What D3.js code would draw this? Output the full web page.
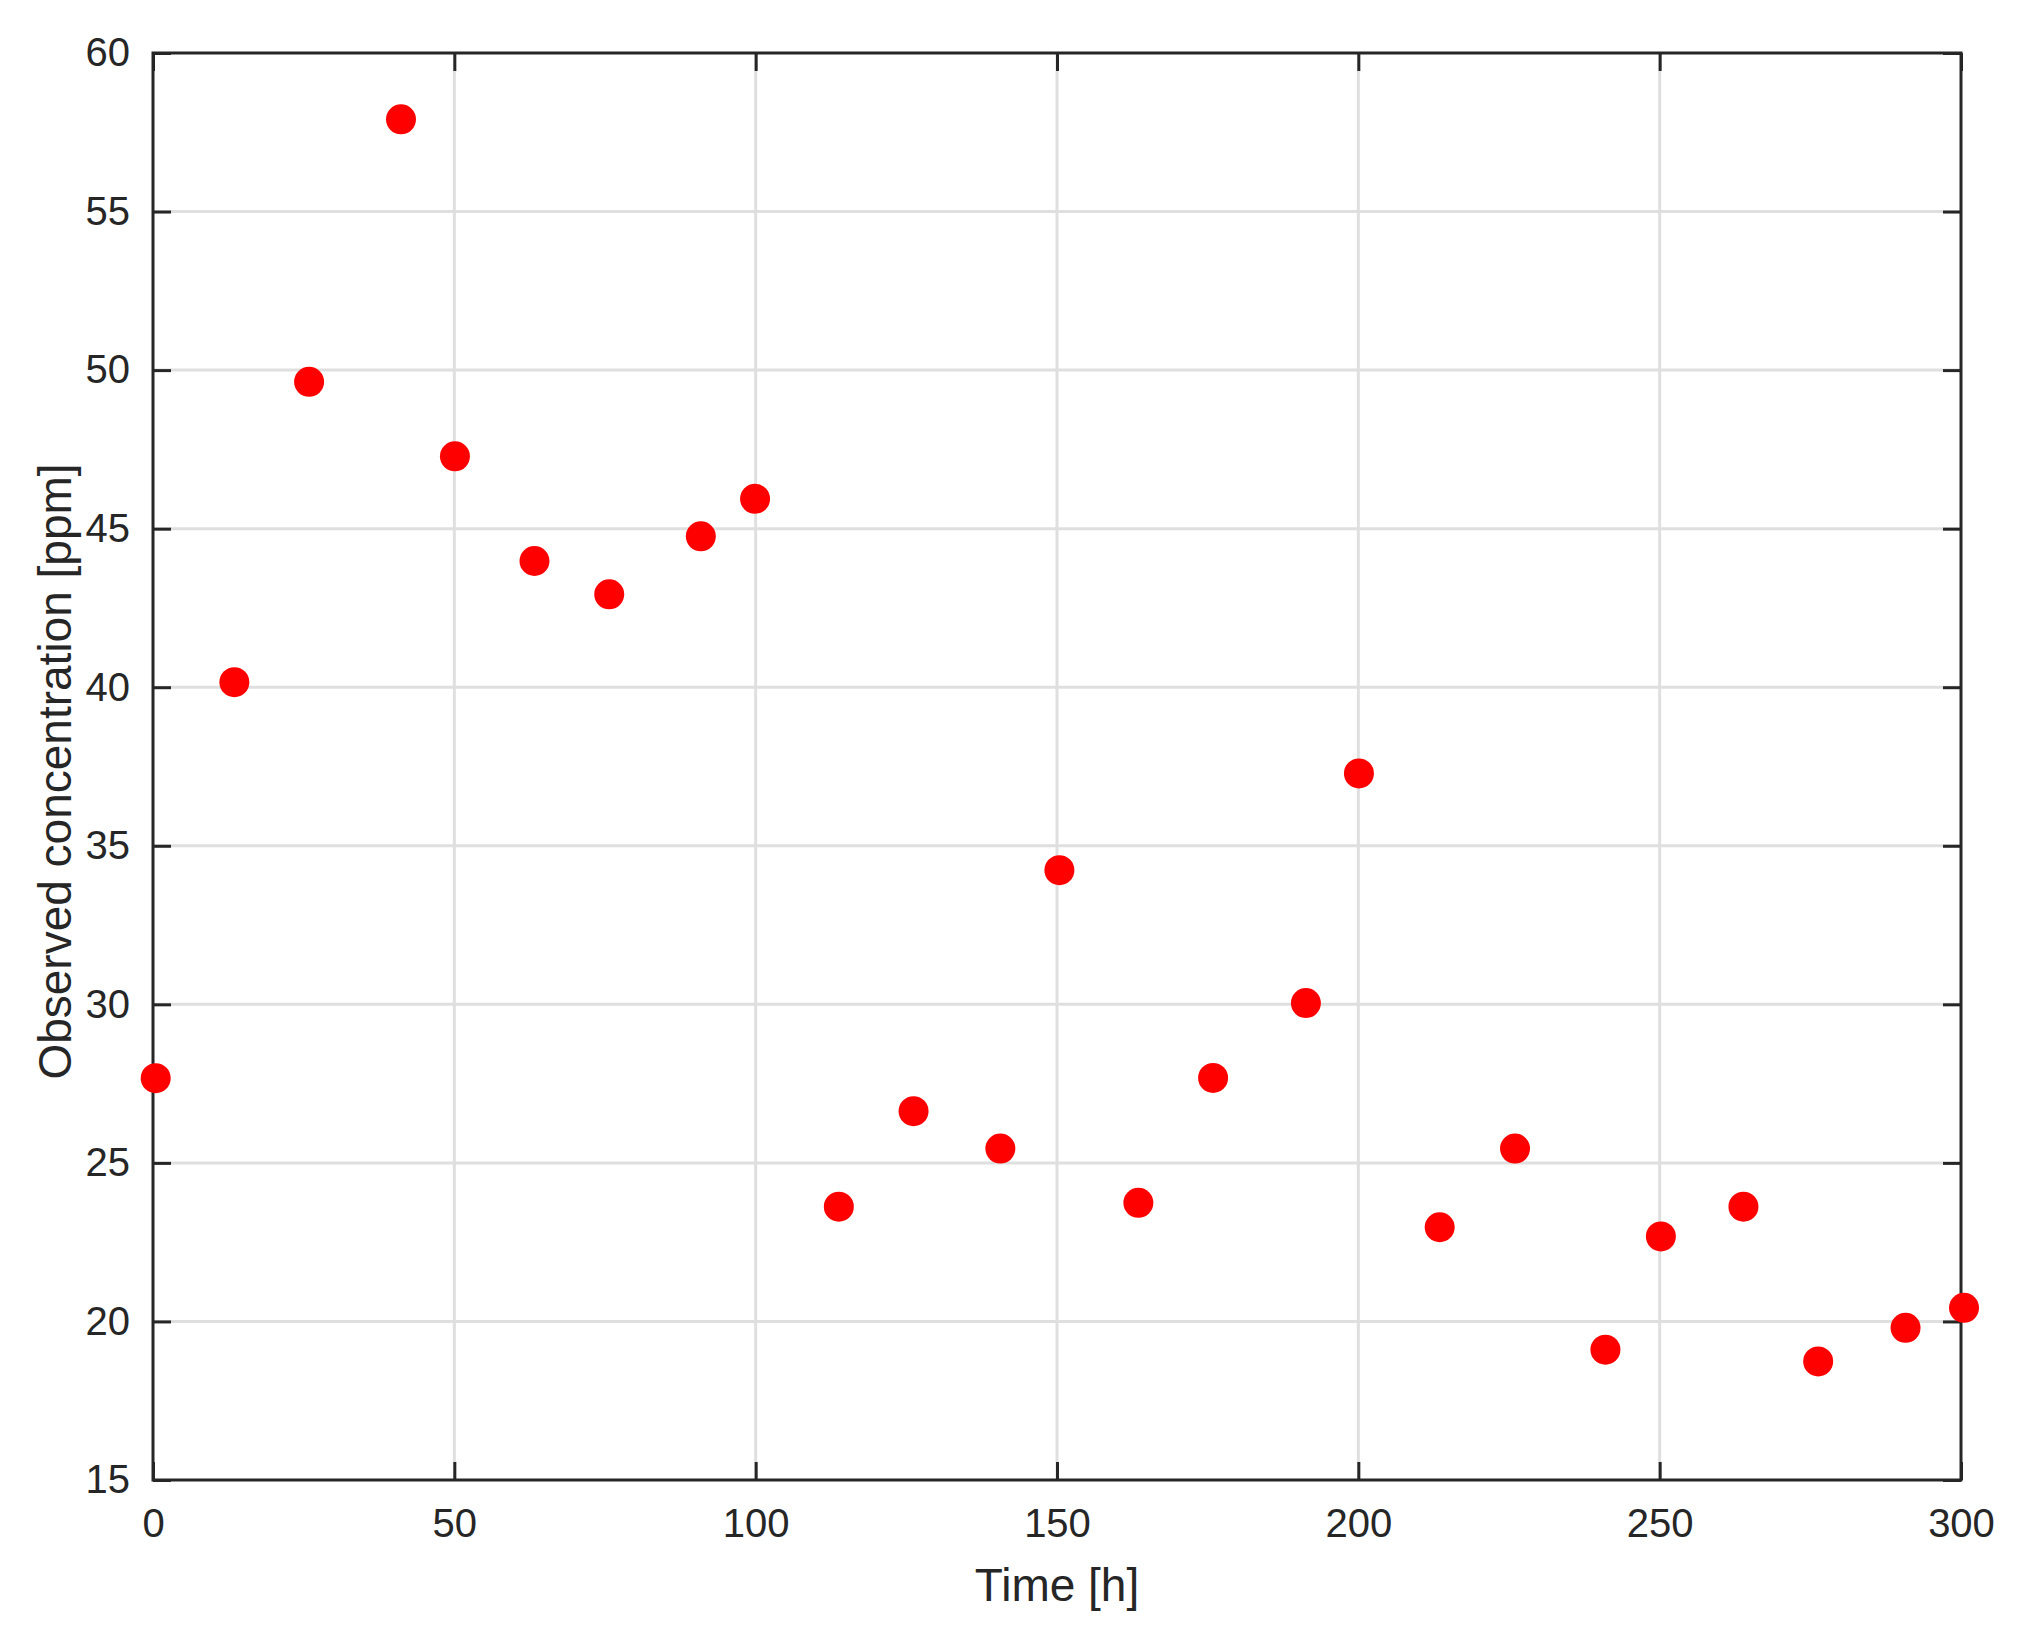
<!DOCTYPE html>
<html>
<head>
<meta charset="utf-8">
<script src="https://cdn.jsdelivr.net/npm/d3@7"></script>
<style>
html,body{margin:0;padding:0;background:#fff;}
svg{display:block;}
</style>
</head>
<body>
<script>
const timeH = [0.45, 13.5, 25.9, 41.15, 50.1, 63.3, 75.7, 90.9, 99.9, 113.8, 126.2, 140.6, 150.4, 163.5, 175.9, 191.3, 200.1, 213.5, 226.0, 241.0, 250.2, 263.9, 276.3, 290.8, 300.5];
const concPpm = [27.67, 40.16, 49.63, 57.91, 47.28, 43.98, 42.93, 44.76, 45.94, 23.62, 26.63, 25.45, 34.23, 23.74, 27.68, 30.04, 37.28, 22.97, 25.45, 19.11, 22.68, 23.62, 18.74, 19.80, 20.43];
const xTicks = [0, 50, 100, 150, 200, 250, 300];
const yTicks = [15, 20, 25, 30, 35, 40, 45, 50, 55, 60];
const xLabel = "Time [h]";
const yLabel = "Observed concentration [ppm]";

const W = 2021, H = 1637;
const L = 153, R = 1961, T = 53, B = 1480;
const font = "'Liberation Sans', Arial, Helvetica, sans-serif";
const axisColor = "#262626";

const svg = d3.select("body").append("svg").attr("width", W).attr("height", H);
const x = d3.scaleLinear().domain([0, 300]).range([L, R]);
const y = d3.scaleLinear().domain([15, 60]).range([B, T]);

// grid
const g = svg.append("g");
g.selectAll("line.gx").data(xTicks.slice(1, -1)).join("line")
  .attr("x1", d => x(d)).attr("x2", d => x(d)).attr("y1", T).attr("y2", B)
  .attr("stroke", "#dfdfdf").attr("stroke-width", 3);
g.selectAll("line.gy").data(yTicks.slice(1, -1)).join("line")
  .attr("y1", d => y(d)).attr("y2", d => y(d)).attr("x1", L).attr("x2", R)
  .attr("stroke", "#dfdfdf").attr("stroke-width", 3);

// axes with inward ticks
const tl = 18;
const axB = d3.axisBottom(x).tickValues(xTicks).tickSize(-tl).tickPadding(29).tickFormat(d3.format("d"));
const axT = d3.axisTop(x).tickValues(xTicks).tickSize(-tl).tickFormat("");
const axL = d3.axisLeft(y).tickValues(yTicks).tickSize(-tl).tickPadding(23).tickFormat(d3.format("d"));
const axR = d3.axisRight(y).tickValues(yTicks).tickSize(-tl).tickFormat("");

function style(sel) {
  sel.select(".domain").remove();
  sel.selectAll(".tick line").attr("stroke", axisColor).attr("stroke-width", 3);
  sel.selectAll(".tick text").attr("fill", axisColor).attr("font-family", font).attr("font-size", 40);
}
svg.append("g").attr("transform", `translate(0,${B})`).call(axB).call(style);
svg.append("g").attr("transform", `translate(0,${T})`).call(axT).call(style);
svg.append("g").attr("transform", `translate(${L},0)`).call(axL).call(style);
svg.append("g").attr("transform", `translate(${R},0)`).call(axR).call(style);

// box
svg.append("rect").attr("x", L).attr("y", T).attr("width", R - L).attr("height", B - T)
  .attr("fill", "none").attr("stroke", axisColor).attr("stroke-width", 3);

// labels
svg.append("text").attr("x", (L + R) / 2).attr("y", 1601).attr("text-anchor", "middle")
  .attr("font-family", font).attr("font-size", 46).attr("fill", axisColor).text(xLabel);
svg.append("text").attr("transform", `translate(71,${(T + B) / 2 + 5}) rotate(-90)`).attr("text-anchor", "middle")
  .attr("font-family", font).attr("font-size", 46).attr("fill", axisColor).text(yLabel);

// points
svg.append("g").selectAll("circle").data(timeH.map((t, i) => [t, concPpm[i]])).join("circle")
  .attr("cx", d => x(d[0])).attr("cy", d => y(d[1])).attr("r", 15).attr("fill", "#ff0000");
</script>
</body>
</html>
